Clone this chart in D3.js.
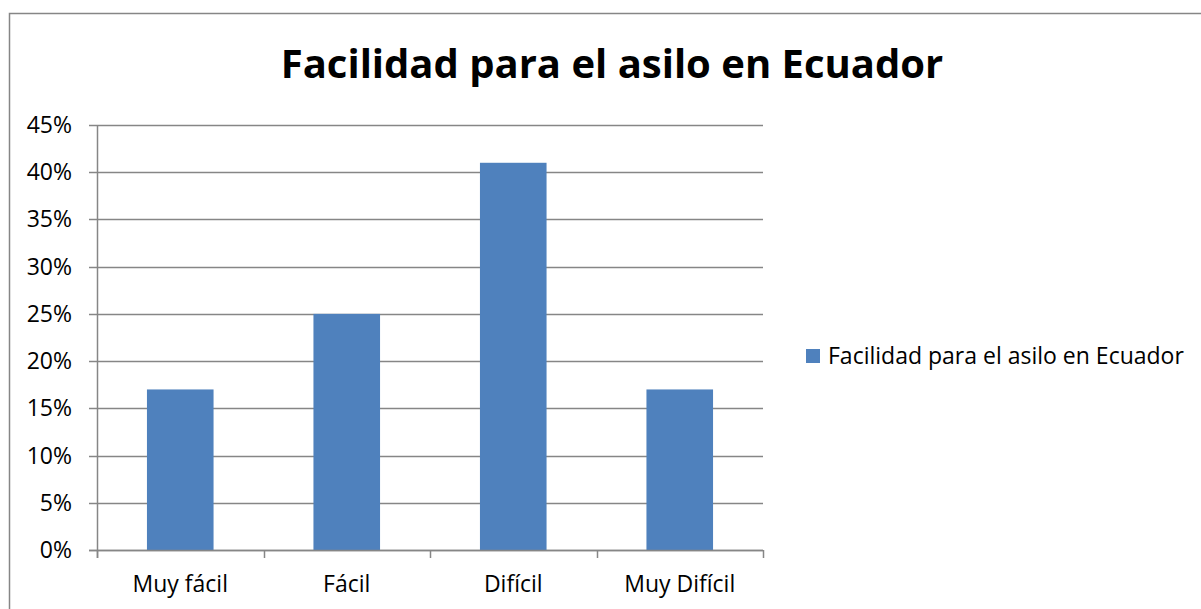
<!DOCTYPE html>
<html><head><meta charset="utf-8">
<script src="https://cdn.jsdelivr.net/npm/d3@7"></script>
<style>body{margin:0;background:#fff;} svg{display:block;font-family:"Open Sans",sans-serif;}</style>
</head><body>
<svg id="c" width="1201" height="609"></svg>
<script>
const categories = ["Muy fácil", "Fácil", "Difícil", "Muy Difícil"];
const values = [0.17, 0.25, 0.41, 0.17];
const yTicks = [0, 0.05, 0.10, 0.15, 0.20, 0.25, 0.30, 0.35, 0.40, 0.45];
const seriesName = "Facilidad para el asilo en Ecuador";
const chartTitle = "Facilidad para el asilo en Ecuador";

const svg = d3.select("#c");
const gray = "#868686", blue = "#4f81bd";
svg.append("rect").attr("x", 9.5).attr("y", 13.5).attr("width", 1200).attr("height", 620)
  .attr("fill", "#fff").attr("stroke", gray).attr("stroke-width", 1.5);

const pL = 97, pR = 763, pT = 125, pB = 550;
const x = d3.scaleBand().domain(categories).range([pL, pR]).paddingInner(0.6).paddingOuter(0.3);
const xb = d3.scaleBand().domain(categories).range([pL, pR]);
const y = d3.scaleLinear().domain([0, 0.45]).range([pB, pT]);

svg.append("text").attr("x", 612).attr("y", 78).attr("text-anchor", "middle")
  .attr("font-weight", "bold").attr("font-size", 40).attr("fill", "#000").text(chartTitle);

// gridlines
svg.append("g").selectAll("line").data(yTicks).join("line")
  .attr("x1", pL - 8).attr("x2", pR).attr("y1", d => Math.round(y(d)) + 0.5).attr("y2", d => Math.round(y(d)) + 0.5)
  .attr("stroke", gray).attr("stroke-width", 1.5);

// y labels
svg.append("g").selectAll("text").data(yTicks).join("text")
  .attr("x", 72).attr("y", d => y(d) + 8).attr("text-anchor", "end")
  .attr("font-size", 23).attr("fill", "#000").text(d => d3.format(".0%")(d));

// bars
svg.append("g").selectAll("rect").data(values).join("rect")
  .attr("x", (d, i) => x(categories[i])).attr("width", x.bandwidth())
  .attr("y", d => y(d)).attr("height", d => pB - y(d)).attr("fill", blue);

// axes lines
svg.append("line").attr("x1", pL + 0.5).attr("x2", pL + 0.5).attr("y1", pT).attr("y2", pB + 8)
  .attr("stroke", gray).attr("stroke-width", 1.5);
const bounds = categories.map(c => xb(c)).concat([pR]);
svg.append("g").selectAll("line").data(bounds).join("line")
  .attr("x1", d => Math.round(d) + 0.5).attr("x2", d => Math.round(d) + 0.5).attr("y1", pB).attr("y2", pB + 8)
  .attr("stroke", gray).attr("stroke-width", 1.5);
svg.append("line").attr("x1", pL - 8).attr("x2", pR).attr("y1", pB + 0.5).attr("y2", pB + 0.5)
  .attr("stroke", gray).attr("stroke-width", 1.5);

// x labels
svg.append("g").selectAll("text").data(categories).join("text")
  .attr("x", d => xb(d) + xb.bandwidth() / 2).attr("y", 592).attr("text-anchor", "middle")
  .attr("font-size", 23).attr("fill", "#000").text(d => d);

// legend
svg.append("rect").attr("x", 806).attr("y", 349).attr("width", 14).attr("height", 14).attr("fill", blue);
svg.append("text").attr("x", 828).attr("y", 364).attr("font-size", 23).attr("fill", "#000").text(seriesName);
</script>
</body></html>
